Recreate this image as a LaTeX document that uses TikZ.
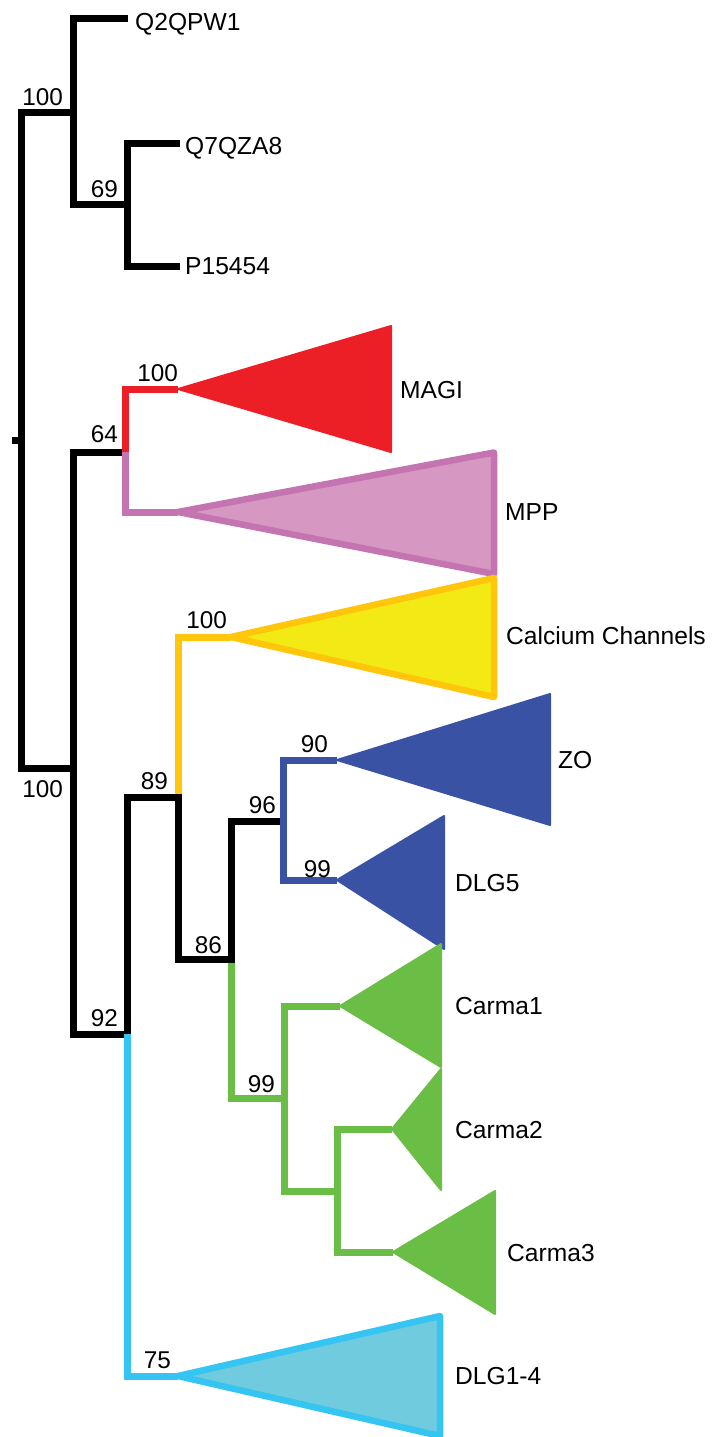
\documentclass[tikz,border=0pt]{standalone}
\usepackage{fontspec}
\setmainfont{Liberation Sans}
\definecolor{magired}{RGB}{236,31,39}
\definecolor{mppline}{RGB}{196,117,177}
\definecolor{mppfill}{RGB}{214,151,194}
\definecolor{calline}{RGB}{255,198,11}
\definecolor{calfill}{RGB}{243,234,21}
\definecolor{zoblue}{RGB}{58,82,163}
\definecolor{carmagreen}{RGB}{106,189,69}
\definecolor{dlgline}{RGB}{53,197,242}
\definecolor{dlgfill}{RGB}{111,203,221}
\begin{document}
\begin{tikzpicture}[x=1pt,y=-1pt,
  br/.style={line width=7pt, line cap=butt, line join=miter},
  solidclade/.style={fill=#1, draw=#1, line width=2pt, line join=round},
  ringclade/.style 2 args={fill=#2, draw=#1, line width=6.5pt, line join=round},
  taxon/.style={anchor=base west, inner sep=0pt, font=\fontsize{24.6}{28}\selectfont},
  support/.style={anchor=base east, inner sep=0pt, font=\fontsize{24.3}{28}\selectfont}]
\useasboundingbox (0,0) rectangle (713,1437);

% tree nodes (junction on each vertical bar)
\coordinate (rTick) at (12,440);
\coordinate (rMid)  at (21,440);
\coordinate (rB)    at (21,768);
\coordinate (nA)    at (73,112);
\coordinate (nB)    at (127,204);
\coordinate (nC)    at (73,768);
\coordinate (nD)    at (125,452);
\coordinate (nE)    at (127,1034);
\coordinate (nF)    at (178,797);
\coordinate (nFtop) at (178,793.5);
\coordinate (nG)    at (231,959);
\coordinate (nGbot) at (231,962.5);
\coordinate (nH)    at (283,821);
\coordinate (nI)    at (284,1098);
\coordinate (nJ)    at (337,1191);

% leaf ends and clade apices
\coordinate (q2)     at (128,19);
\coordinate (q7)     at (180,143);
\coordinate (p15)    at (180,266);
\coordinate (magiA)  at (178,389);
\coordinate (mppA)   at (178,512);
\coordinate (calA)   at (231,637);
\coordinate (zoA)    at (337,760);
\coordinate (dlg5A)  at (337,880);
\coordinate (c1A)    at (340,1006);
\coordinate (c2A)    at (392,1129);
\coordinate (c3A)    at (393,1252);
\coordinate (dlgA)   at (178,1376);

% collapsed clades
\filldraw[solidclade=magired] (magiA) -- (391,326) -- (391,452) -- cycle;
\filldraw[ringclade={mppline}{mppfill}] (mppA) -- (494,452.5) -- (494,574) -- cycle;
\filldraw[ringclade={calline}{calfill}] (calA) -- (494,578) -- (494,697) -- cycle;
\filldraw[solidclade=zoblue] (zoA) -- (550,694) -- (550,825) -- cycle;
\filldraw[solidclade=zoblue] (dlg5A) -- (444,816) -- (444,949) -- cycle;
\filldraw[solidclade=carmagreen] (c1A) -- (441,944) -- (441,1067) -- cycle;
\filldraw[solidclade=carmagreen] (c2A) -- (441,1069) -- (441,1190) -- cycle;
\filldraw[solidclade=carmagreen] (c3A) -- (495,1191) -- (495,1314) -- cycle;
\filldraw[ringclade={dlgline}{dlgfill}] (dlgA) -- (440,1316) -- (440,1436) -- cycle;

% black branches
\draw[br] (rTick) -- (rMid);
\draw[br] (nA) -| (rB) -- (nC);
\draw[br] (q2) -| (nA) |- (nB);
\draw[br] (q7) -| (nB) |- (p15);
\draw[br] (nD) -| (nC) |- (nE);
\draw[br] (nE) |- (nF) |- (nG) |- (nH);

% coloured branches
\draw[br, magired] (magiA) -| (nD);
\draw[br, mppline] (nD) |- (mppA);
\draw[br, calline] (calA) -| (nFtop);
\draw[br, zoblue] (zoA) -| (nH) |- (dlg5A);
\draw[br, carmagreen] (nGbot) |- (nI);
\draw[br, carmagreen] (c1A) -| (nI) |- (nJ);
\draw[br, carmagreen] (c2A) -| (nJ) |- (c3A);
\draw[br, dlgline] (nE) |- (dlgA);

% taxon labels
\node[taxon] (tQ2)   at (135,31)   {Q2QPW1};
\node[taxon] (tQ7)   at (185,154)  {Q7QZA8};
\node[taxon] (tP15)  at (185,274)  {P15454};
\node[taxon] (tMAGI) at (400,398)  {MAGI};
\node[taxon] (tMPP)  at (505,520)  {MPP};
\node[taxon] (tCal)  at (506,644)  {Calcium Channels};
\node[taxon] (tZO)   at (558,768)  {ZO};
\node[taxon] (tDLG5) at (455,891)  {DLG5};
\node[taxon] (tC1)   at (455,1014) {Carma1};
\node[taxon] (tC2)   at (455,1138) {Carma2};
\node[taxon] (tC3)   at (507,1261) {Carma3};
\node[taxon] (tDLG)  at (455,1384) {DLG1-4};

% support values
\node[support] (sA) at (63,105)   {100};
\node[support] (sB) at (118,197)  {69};
\node[support] (sR) at (63,797)   {100};
\node[support] (sD) at (118,442)  {64};
\node[support] (sM) at (178,381)  {100};
\node[support] (sC) at (227,628)  {100};
\node[support] (sF) at (168,789)  {89};
\node[support] (sG) at (222,953)  {86};
\node[support] (sH) at (276,813)  {96};
\node[support] (sZ) at (328,752)  {90};
\node[support] (s5) at (331,877)  {99};
\node[support] (sI) at (275,1092) {99};
\node[support] (sE) at (118,1026) {92};
\node[support] (sL) at (171,1368) {75};
\end{tikzpicture}
\end{document}
